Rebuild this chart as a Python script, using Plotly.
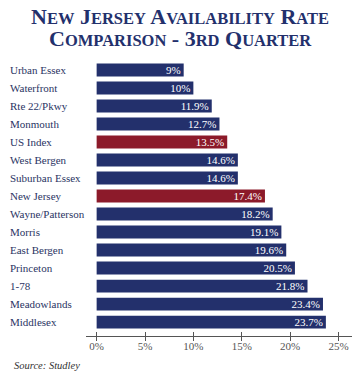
import plotly.graph_objects as go

categories = [
    "Urban Essex", "Waterfront", "Rte 22/Pkwy", "Monmouth", "US Index",
    "West Bergen", "Suburban Essex", "New Jersey", "Wayne/Patterson",
    "Morris", "East Bergen", "Princeton", "1-78", "Meadowlands", "Middlesex"]
values = [9, 10, 11.9, 12.7, 13.5, 14.6, 14.6, 17.4, 18.2, 19.1, 19.6, 20.5, 21.8, 23.4, 23.7]
highlight = ["US Index", "New Jersey"]
tick_vals = [0, 5, 10, 15, 20, 25]
tick_text = ["0%", "5%", "10%", "15%", "20%", "25%"]

NAVY = "#23306c"
RED = "#8c1a2a"
SERIF = "Liberation Serif, Times New Roman, serif"
AXIS = "#555555"

colors = [RED if c in highlight else NAVY for c in categories]
labels = [f"{v:g}%" for v in values]

fig = go.Figure(go.Bar(
    x=values, y=categories, orientation="h",
    marker=dict(color=colors, line=dict(width=0)),
    text=labels, textposition="inside", insidetextanchor="end",
    textfont=dict(color="white", family=SERIF, size=11),
    width=0.72,
))

S = "<span style='font-size:16.5px'>{}</span>"
line1 = "N" + S.format("EW") + " J" + S.format("ERSEY") + " A" + S.format("VAILABILITY") + " R" + S.format("ATE")
line2 = "C" + S.format("OMPARISON") + " - 3" + S.format("RD") + " Q" + S.format("UARTER")

title_font = dict(family=SERIF, size=22, color=NAVY, weight="bold")
cx = (180 - 86) / 266
annotations = [
    dict(text=line1, x=cx, xref="paper", xanchor="center", y=1.1636, yref="paper",
         yanchor="middle", showarrow=False, font=title_font),
    dict(text=line2, x=cx, xref="paper", xanchor="center", y=1.0836, yref="paper",
         yanchor="middle", showarrow=False, font=title_font),
]
annotations += [dict(text=c, x=-0.295, xref="paper", y=c, yref="y", xanchor="left",
                     showarrow=False, font=dict(family=SERIF, size=11, color="#2a3463"))
                for c in categories]
annotations.append(dict(text="<i>Source: Studley</i>", x=-0.277, xref="paper", y=-0.107,
                        yref="paper", xanchor="left", yanchor="middle", showarrow=False,
                        font=dict(family=SERIF, size=10.5, color="#333333")))

fig.update_layout(
    width=360, height=373,
    margin=dict(l=86, r=8, t=61, b=37),
    paper_bgcolor="white", plot_bgcolor="white",
    showlegend=False,
    uniformtext=dict(minsize=11, mode="show"),
    xaxis=dict(range=[-1.1, 26.4], tickvals=tick_vals, ticktext=tick_text,
               showgrid=False, zeroline=False, showline=True, linecolor=AXIS, linewidth=1,
               ticks="inside", ticklen=4, tickcolor=AXIS, tickwidth=1,
               ticklabelstandoff=0,
               tickfont=dict(family=SERIF, size=11, color=AXIS),
               minor=dict(tickmode="array", tickvals=[v + 0.02 for v in tick_vals],
                          ticks="outside", ticklen=4, tickcolor=AXIS, tickwidth=1,
                          showgrid=False)),
    yaxis=dict(range=[14.77, -0.5], showticklabels=False, showgrid=False, zeroline=False,
               showline=False, ticks=""),
    annotations=annotations,
)
fig.write_html("out.html", config={"displayModeBar": False},
               post_script="document.body.style.margin='0';document.body.style.overflow='hidden';")
